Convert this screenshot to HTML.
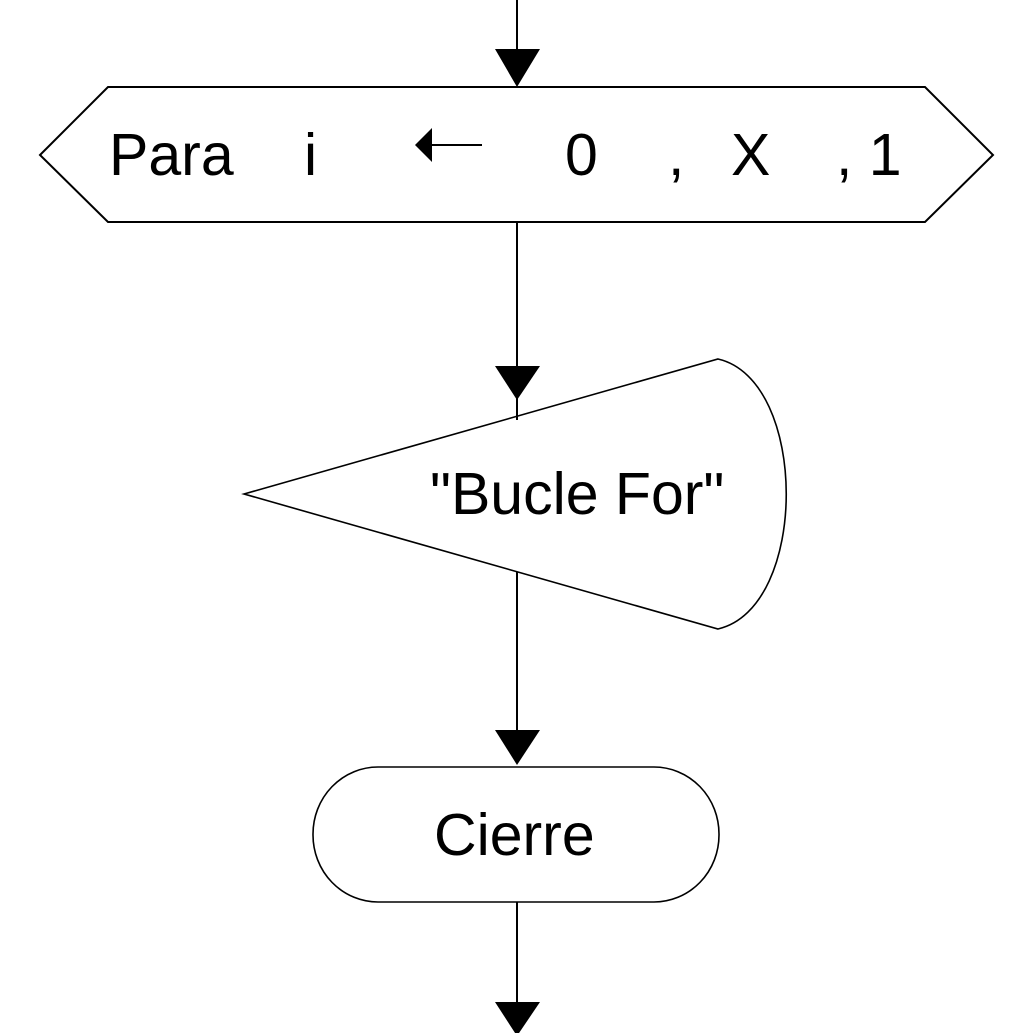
<!DOCTYPE html>
<html><head><style>html,body{margin:0;padding:0;background:#fff;}svg{display:block}</style></head>
<body>
<svg width="1036" height="1033" xmlns="http://www.w3.org/2000/svg" font-family="Liberation Sans, Arial, sans-serif" font-size="59" fill="#000">
<g stroke="#000" stroke-width="2" fill="none">
<line x1="517" y1="0" x2="517" y2="60"/>
<polygon points="40,155 108,87 925,87 993,155 925,222 108,222"/>
<line x1="517" y1="222" x2="517" y2="420"/>
<path d="M244,494 L718,359 C809,380 809,608 718,629 Z" stroke-width="1.6"/>
<line x1="517" y1="572" x2="517" y2="740"/>
<rect x="313" y="767" width="406" height="135" rx="65" ry="67" stroke-width="1.6"/>
<line x1="517" y1="902" x2="517" y2="1010"/>
<line x1="430" y1="145" x2="482" y2="145"/>
</g>
<polygon points="495,49 540,49 517,87"/>
<polygon points="495,366 540,366 517,400"/>
<polygon points="495,730 540,730 517,765"/>
<polygon points="495,1002 540,1002 517,1036"/>
<polygon points="415,145 432,128 432,162"/>
<text x="109" y="175">Para</text>
<text x="304" y="175">i</text>
<text x="565" y="175">0</text>
<text x="668" y="175">,</text>
<text x="731" y="175">X</text>
<text x="836" y="175">, 1</text>
<text x="430" y="514">"Bucle For"</text>
<text x="434" y="855">Cierre</text>
</svg>
</body></html>
